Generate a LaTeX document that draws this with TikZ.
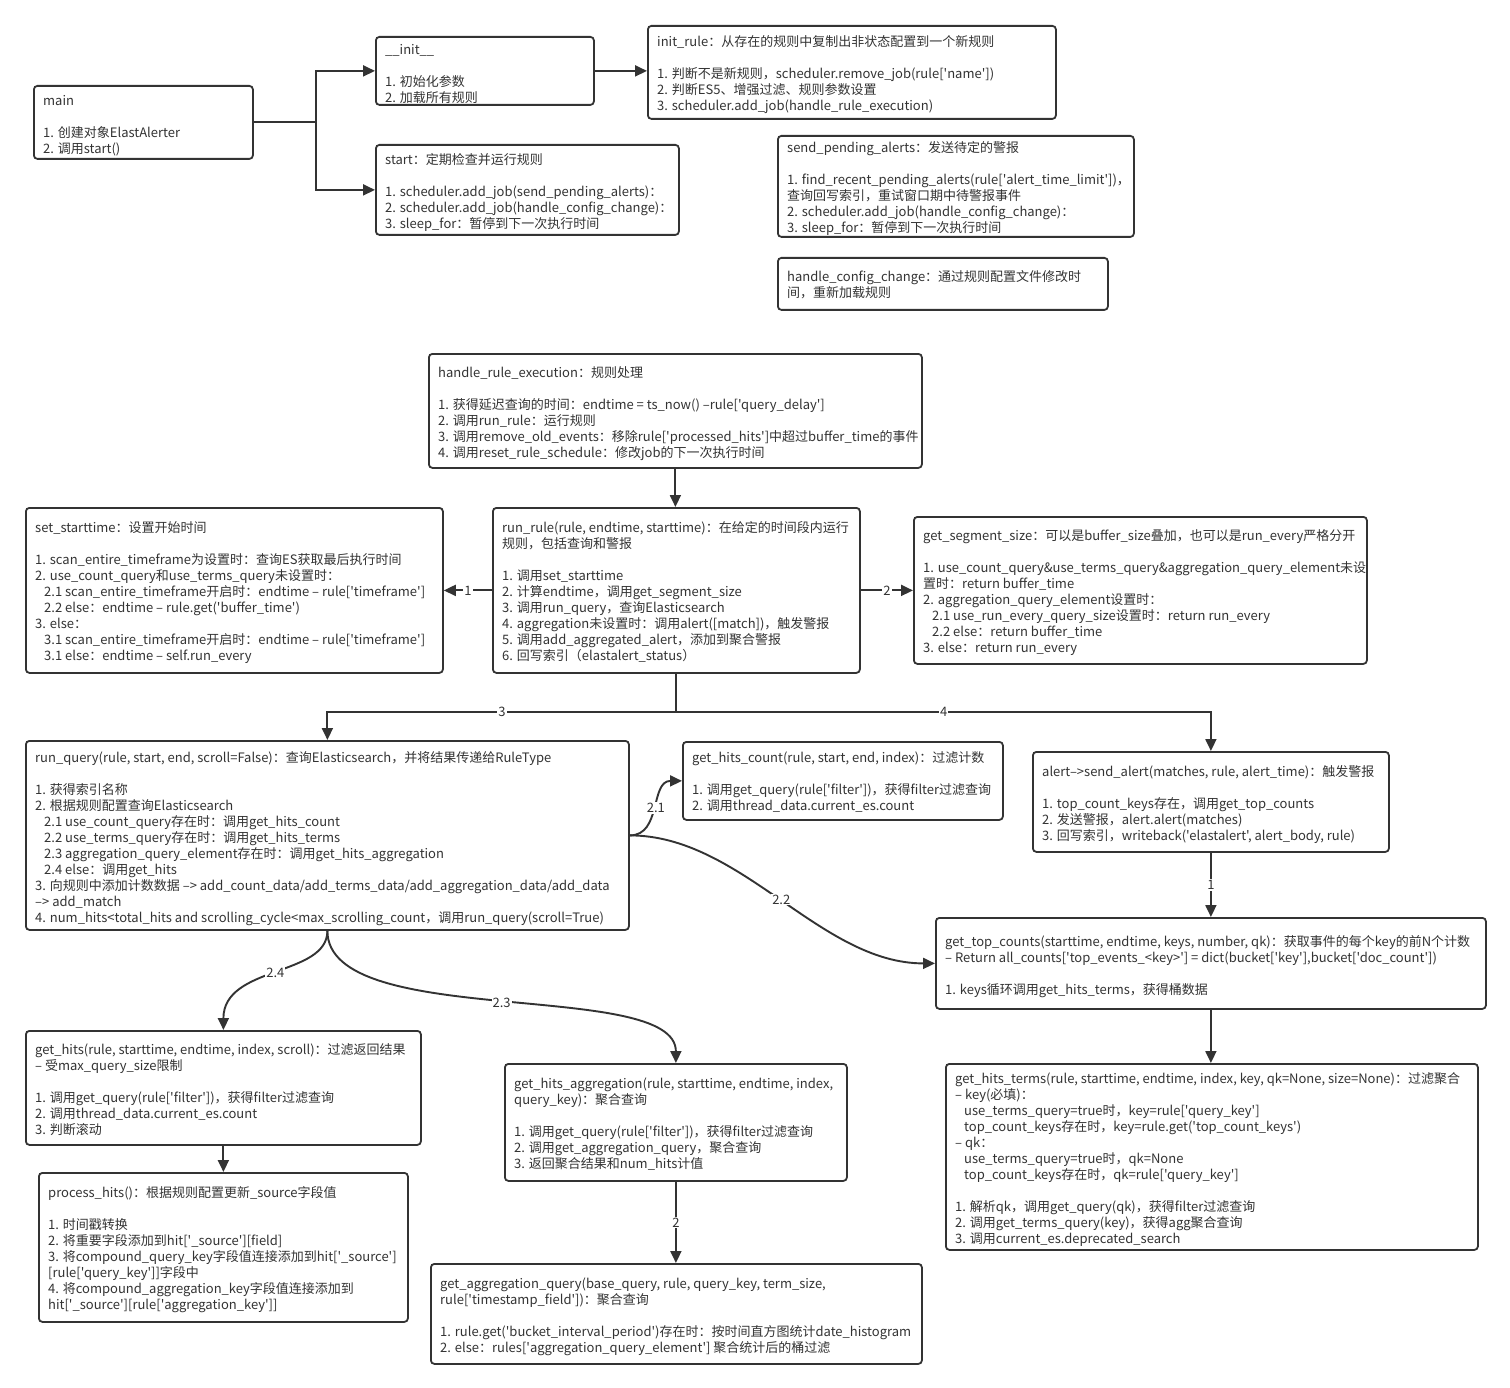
\documentclass[tikz,border=0pt]{standalone}
\usepackage{fontspec}
\newfontfamily\nf{Noto Sans CJK SC}
\usetikzlibrary{arrows.meta}
\definecolor{ink}{HTML}{333333}
\newcommand\gapl{\\[16pt]}
\newcommand\ind{\hspace*{9pt}}
\newcommand\mkbox[7]{%
  \node[box, minimum width=#4pt, minimum height=#5pt] (#1) at (#2,#3) {};
  \node[txt] (#1t) at (#2+10,#6-7) {\rule{0pt}{12pt}#7};}
\begin{document}
\begin{tikzpicture}[x=1pt,y=-1pt,
  box/.style={draw=ink, line width=1.8pt, rounded corners=3.5pt, anchor=north west, inner sep=0pt},
  txt/.style={anchor=north west, inner sep=0pt, align=left, text=ink, font=\nf\fontsize{13pt}{16pt}\selectfont},
  conn/.style={draw=ink, line width=1.9pt},
  arr/.style={conn, -{Triangle[length=12pt,width=11pt]}},
  lbl/.style={fill=white, inner sep=1pt, text=ink, font=\nf\fontsize{13pt}{16pt}\selectfont}]
\fill[white] (0,0) rectangle (1510,1388);
\useasboundingbox (0,0) rectangle (1510,1388);

\mkbox{main}{33}{85}{219}{73}{100}{main\gapl 1. 创建对象ElastAlerter\\2. 调用start()}
\mkbox{init}{375}{36}{218}{68}{49}{\_\_init\_\_\gapl 1. 初始化参数\\2. 加载所有规则}
\mkbox{initrule}{647}{25}{408}{93}{41}{init\_rule：从存在的规则中复制出非状态配置到一个新规则\gapl 1. 判断不是新规则，scheduler.remove\_job(rule['name'])\\2. 判断ES5、增强过滤、规则参数设置\\3. scheduler.add\_job(handle\_rule\_execution)}
\mkbox{start}{375}{144}{303}{90}{159}{start：定期检查并运行规则\gapl 1. scheduler.add\_job(send\_pending\_alerts)：\\2. scheduler.add\_job(handle\_config\_change)：\\3. sleep\_for：暂停到下一次执行时间}
\mkbox{send}{777}{135}{356}{101}{147}{send\_pending\_alerts：发送待定的警报\gapl 1. find\_recent\_pending\_alerts(rule['alert\_time\_limit'])，\\查询回写索引，重试窗口期中待警报事件\\2. scheduler.add\_job(handle\_config\_change)：\\3. sleep\_for：暂停到下一次执行时间}
\mkbox{hcc}{777}{257}{330}{52}{276}{handle\_config\_change：通过规则配置文件修改时\\间，重新加载规则}
\mkbox{handle}{428}{353}{493}{114}{372}{handle\_rule\_execution：规则处理\gapl 1. 获得延迟查询的时间：endtime = ts\_now() –rule['query\_delay']\\2. 调用run\_rule：运行规则\\3. 调用remove\_old\_events：移除rule['processed\_hits']中超过buffer\_time的事件\\4. 调用reset\_rule\_schedule：修改job的下一次执行时间}
\mkbox{setstart}{25}{507}{417}{165}{527}{set\_starttime：设置开始时间\gapl 1. scan\_entire\_timeframe为设置时：查询ES获取最后执行时间\\2. use\_count\_query和use\_terms\_query未设置时：\\\ind 2.1 scan\_entire\_timeframe开启时：endtime – rule['timeframe']\\\ind 2.2 else：endtime – rule.get('buffer\_time')\\3. else：\\\ind 3.1 scan\_entire\_timeframe开启时：endtime – rule['timeframe']\\\ind 3.1 else：endtime – self.run\_every}
\mkbox{runrule}{492}{507}{367}{165}{527}{run\_rule(rule, endtime, starttime)：在给定的时间段内运行\\规则，包括查询和警报\gapl 1. 调用set\_starttime\\2. 计算endtime，调用get\_segment\_size\\3. 调用run\_query，查询Elasticsearch\\4. aggregation未设置时：调用alert([match])，触发警报\\5. 调用add\_aggregated\_alert，添加到聚合警报\\6. 回写索引（elastalert\_status）}
\mkbox{segsize}{913}{516}{453}{147}{535}{get\_segment\_size：可以是buffer\_size叠加，也可以是run\_every严格分开\gapl 1. use\_count\_query\&use\_terms\_query\&aggregation\_query\_element未设\\置时：return buffer\_time\\2. aggregation\_query\_element设置时：\\\ind 2.1 use\_run\_every\_query\_size设置时：return run\_every\\\ind 2.2 else：return buffer\_time\\3. else：return run\_every}
\mkbox{runquery}{25}{740}{603}{189}{757}{run\_query(rule, start, end, scroll=False)：查询Elasticsearch，并将结果传递给RuleType\gapl 1. 获得索引名称\\2. 根据规则配置查询Elasticsearch\\\ind 2.1 use\_count\_query存在时：调用get\_hits\_count\\\ind 2.2 use\_terms\_query存在时：调用get\_hits\_terms\\\ind 2.3 aggregation\_query\_element存在时：调用get\_hits\_aggregation\\\ind 2.4 else：调用get\_hits\\3. 向规则中添加计数数据 –> add\_count\_data/add\_terms\_data/add\_aggregation\_data/add\_data\\–> add\_match\\4. num\_hits<total\_hits and scrolling\_cycle<max\_scrolling\_count，调用run\_query(scroll=True)}
\mkbox{ghc}{682}{741}{320}{78}{757}{get\_hits\_count(rule, start, end, index)：过滤计数\gapl 1. 调用get\_query(rule['filter'])，获得filter过滤查询\\2. 调用thread\_data.current\_es.count}
\mkbox{alert}{1032}{751}{356}{100}{771}{alert–>send\_alert(matches, rule, alert\_time)：触发警报\gapl 1. top\_count\_keys存在，调用get\_top\_counts\\2. 发送警报，alert.alert(matches)\\3. 回写索引，writeback('elastalert', alert\_body, rule)}
\mkbox{gtc}{935}{917}{550}{91}{941}{get\_top\_counts(starttime, endtime, keys, number, qk)：获取事件的每个key的前N个计数\\– Return all\_counts['top\_events\_<key>'] = dict(bucket['key'],bucket['doc\_count'])\gapl 1. keys循环调用get\_hits\_terms，获得桶数据}
\mkbox{gethits}{25}{1030}{395}{114}{1049}{get\_hits(rule, starttime, endtime, index, scroll)：过滤返回结果\\– 受max\_query\_size限制\gapl 1. 调用get\_query(rule['filter'])，获得filter过滤查询\\2. 调用thread\_data.current\_es.count\\3. 判断滚动}
\mkbox{process}{38}{1172}{369}{149}{1192}{process\_hits()：根据规则配置更新\_source字段值\gapl 1. 时间戳转换\\2. 将重要字段添加到hit['\_source'][field]\\3. 将compound\_query\_key字段值连接添加到hit['\_source']\\\relax[rule['query\_key']]字段中\\4. 将compound\_aggregation\_key字段值连接添加到\\hit['\_source'][rule['aggregation\_key']]}
\mkbox{gha}{504}{1063}{342}{117}{1083}{get\_hits\_aggregation(rule, starttime, endtime, index,\\query\_key)：聚合查询\gapl 1. 调用get\_query(rule['filter'])，获得filter过滤查询\\2. 调用get\_aggregation\_query，聚合查询\\3. 返回聚合结果和num\_hits计值}
\mkbox{gaq}{430}{1263}{491}{100}{1283}{get\_aggregation\_query(base\_query, rule, query\_key, term\_size,\\rule['timestamp\_field'])：聚合查询\gapl 1. rule.get('bucket\_interval\_period')存在时：按时间直方图统计date\_histogram\\2. else：rules['aggregation\_query\_element'] 聚合统计后的桶过滤}
\mkbox{ght}{945}{1063}{532}{186}{1078}{get\_hits\_terms(rule, starttime, endtime, index, key, qk=None, size=None)：过滤聚合\\– key(必填)：\\\ind use\_terms\_query=true时，key=rule['query\_key']\\\ind top\_count\_keys存在时，key=rule.get('top\_count\_keys')\\– qk：\\\ind use\_terms\_query=true时，qk=None\\\ind top\_count\_keys存在时，qk=rule['query\_key']\gapl 1. 解析qk，调用get\_query(qk)，获得filter过滤查询\\2. 调用get\_terms\_query(key)，获得agg聚合查询\\3. 调用current\_es.deprecated\_search}

% connectors
\draw[conn] (main.east) -- ++(62,0) coordinate (mj);
\draw[arr] (mj) |- (init.west);
\draw[arr] (mj) |- (start.west);
\draw[arr] (init.east) -- (init.east -| initrule.west);
\draw[arr] (handle.south) -- (handle.south |- runrule.north);
\draw[arr] (runrule.west) -- node[lbl]{1} (setstart.east);
\draw[arr] (runrule.east) -- node[lbl]{2} (segsize.west);
\draw[conn] (runrule.south) -- ++(0,38) coordinate (split);
\draw[arr] (split) -| node[lbl,pos=0.25]{3} (runquery.north);
\draw[arr] (split) -| node[lbl,pos=0.25]{4} (alert.north);
\draw[arr] (runquery.east) .. controls +(32,0) and +(-32,0) .. node[lbl]{2.1} (ghc.west);
\draw[arr] (runquery.east) .. controls +(112,0) and +(-115,0) .. node[lbl]{2.2} (gtc.west);
\draw[arr] (runquery.south) .. controls +(0,46) and +(0,-65) .. node[lbl]{2.4} (gethits.north);
\draw[arr] (runquery.south) .. controls +(0,100) and +(0,-85) .. node[lbl]{2.3} (gha.north);
\draw[arr] (alert.south) -- node[lbl]{1} (alert.south |- gtc.north);
\draw[arr] (gtc.south) -- (gtc.south |- ght.north);
\draw[arr] (gethits.south) -- (gethits.south |- process.north);
\draw[arr] (gha.south) -- node[lbl]{2} (gha.south |- gaq.north);
\end{tikzpicture}
\end{document}
